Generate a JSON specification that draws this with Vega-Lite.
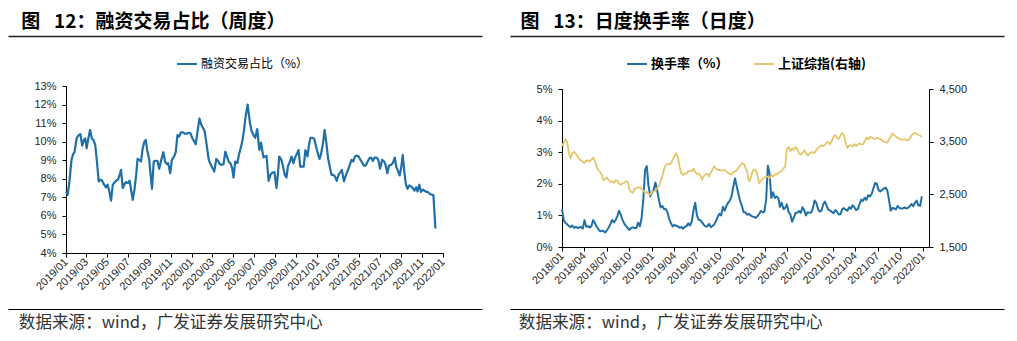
{
"$schema": "https://vega.github.io/schema/vega-lite/v6.json",
"background": "white",
"autosize": "none",
"padding": 0,
"width": 1017,
"height": 341,
"config": {
  "view": {"stroke": null},
  "axis": {"grid": false, "labelFont": "Liberation Sans", "labelFontSize": 11, "labelColor": "#262626", "domainColor": "#000", "tickColor": "#000", "tickSize": 4, "titleFont": "Noto Sans CJK SC"},
  "line": {"strokeJoin": "round"}
},
"datasets": {
  "deco": [{"a": 0, "b": 0, "c": 0, "e": 0}, {"a": 1, "b": 1, "c": 1, "e": 1}],
  "left": [
{"d":"2019-01-01","v":7.32},{"d":"2019-01-06","v":7.14},{"d":"2019-01-11","v":7.86},{"d":"2019-01-17","v":9.02},{"d":"2019-01-21","v":9.29},{"d":"2019-01-26","v":9.46},{"d":"2019-02-01","v":10.18},{"d":"2019-02-07","v":10.36},{"d":"2019-02-12","v":10.4},{"d":"2019-02-17","v":9.79},{"d":"2019-02-22","v":10.09},{"d":"2019-02-26","v":10.18},{"d":"2019-03-02","v":9.64},{"d":"2019-03-07","v":10.18},{"d":"2019-03-12","v":10.63},{"d":"2019-03-17","v":10.18},{"d":"2019-03-22","v":10.09},{"d":"2019-03-27","v":9.82},{"d":"2019-04-01","v":8.93},{"d":"2019-04-06","v":7.86},{"d":"2019-04-11","v":7.95},{"d":"2019-04-16","v":7.9},{"d":"2019-04-21","v":7.71},{"d":"2019-04-27","v":7.54},{"d":"2019-05-02","v":7.68},{"d":"2019-05-07","v":7.32},{"d":"2019-05-12","v":6.82},{"d":"2019-05-17","v":7.68},{"d":"2019-05-23","v":7.82},{"d":"2019-05-27","v":7.9},{"d":"2019-06-01","v":7.95},{"d":"2019-06-06","v":8.21},{"d":"2019-06-10","v":8.48},{"d":"2019-06-15","v":7.5},{"d":"2019-06-20","v":7.71},{"d":"2019-06-24","v":7.82},{"d":"2019-06-30","v":7.77},{"d":"2019-07-05","v":7.9},{"d":"2019-07-10","v":7.32},{"d":"2019-07-14","v":6.86},{"d":"2019-07-19","v":7.41},{"d":"2019-07-24","v":8.21},{"d":"2019-07-28","v":9.07},{"d":"2019-08-02","v":9.02},{"d":"2019-08-07","v":8.93},{"d":"2019-08-12","v":9.64},{"d":"2019-08-17","v":10.0},{"d":"2019-08-21","v":10.09},{"d":"2019-08-25","v":9.55},{"d":"2019-08-31","v":9.02},{"d":"2019-09-04","v":8.21},{"d":"2019-09-08","v":7.46},{"d":"2019-09-13","v":8.93},{"d":"2019-09-18","v":8.96},{"d":"2019-09-24","v":8.96},{"d":"2019-09-29","v":8.54},{"d":"2019-10-05","v":9.02},{"d":"2019-10-11","v":9.43},{"d":"2019-10-16","v":8.93},{"d":"2019-10-21","v":8.79},{"d":"2019-10-25","v":8.84},{"d":"2019-10-31","v":8.3},{"d":"2019-11-05","v":9.02},{"d":"2019-11-11","v":9.2},{"d":"2019-11-16","v":9.43},{"d":"2019-11-21","v":10.36},{"d":"2019-11-26","v":10.27},{"d":"2019-12-01","v":10.5},{"d":"2019-12-07","v":10.5},{"d":"2019-12-12","v":10.43},{"d":"2019-12-18","v":10.43},{"d":"2019-12-24","v":10.48},{"d":"2019-12-29","v":10.45},{"d":"2020-01-03","v":10.2},{"d":"2020-01-09","v":10.0},{"d":"2020-01-13","v":9.86},{"d":"2020-01-18","v":10.5},{"d":"2020-01-24","v":11.25},{"d":"2020-01-29","v":10.93},{"d":"2020-02-03","v":10.75},{"d":"2020-02-08","v":10.57},{"d":"2020-02-14","v":9.82},{"d":"2020-02-20","v":9.02},{"d":"2020-02-26","v":8.75},{"d":"2020-03-02","v":8.57},{"d":"2020-03-07","v":8.39},{"d":"2020-03-13","v":9.07},{"d":"2020-03-18","v":8.96},{"d":"2020-03-23","v":8.79},{"d":"2020-03-29","v":8.75},{"d":"2020-04-03","v":8.79},{"d":"2020-04-08","v":9.46},{"d":"2020-04-13","v":9.2},{"d":"2020-04-18","v":8.93},{"d":"2020-04-23","v":8.84},{"d":"2020-04-28","v":8.57},{"d":"2020-05-02","v":8.07},{"d":"2020-05-07","v":8.93},{"d":"2020-05-13","v":8.84},{"d":"2020-05-18","v":9.32},{"d":"2020-05-24","v":9.73},{"d":"2020-05-28","v":10.09},{"d":"2020-06-01","v":10.54},{"d":"2020-06-06","v":11.34},{"d":"2020-06-12","v":12.0},{"d":"2020-06-19","v":10.98},{"d":"2020-06-24","v":10.54},{"d":"2020-06-29","v":10.36},{"d":"2020-07-04","v":10.21},{"d":"2020-07-10","v":10.68},{"d":"2020-07-16","v":9.55},{"d":"2020-07-21","v":9.95},{"d":"2020-07-28","v":9.15},{"d":"2020-08-01","v":9.2},{"d":"2020-08-06","v":9.23},{"d":"2020-08-12","v":7.89},{"d":"2020-08-18","v":8.25},{"d":"2020-08-24","v":8.34},{"d":"2020-08-29","v":8.36},{"d":"2020-09-04","v":7.5},{"d":"2020-09-08","v":8.25},{"d":"2020-09-12","v":9.2},{"d":"2020-09-18","v":9.02},{"d":"2020-09-23","v":8.66},{"d":"2020-09-28","v":8.21},{"d":"2020-10-03","v":8.07},{"d":"2020-10-07","v":8.66},{"d":"2020-10-13","v":8.93},{"d":"2020-10-18","v":9.2},{"d":"2020-10-23","v":8.84},{"d":"2020-10-29","v":9.2},{"d":"2020-11-03","v":9.38},{"d":"2020-11-07","v":9.55},{"d":"2020-11-12","v":8.66},{"d":"2020-11-18","v":8.66},{"d":"2020-11-22","v":8.66},{"d":"2020-11-27","v":9.55},{"d":"2020-12-03","v":9.2},{"d":"2020-12-08","v":9.91},{"d":"2020-12-12","v":10.21},{"d":"2020-12-18","v":10.21},{"d":"2020-12-23","v":10.14},{"d":"2020-12-28","v":9.73},{"d":"2021-01-02","v":9.38},{"d":"2021-01-07","v":9.07},{"d":"2021-01-11","v":9.29},{"d":"2021-01-17","v":9.91},{"d":"2021-01-22","v":10.63},{"d":"2021-01-27","v":9.91},{"d":"2021-02-01","v":9.11},{"d":"2021-02-07","v":8.54},{"d":"2021-02-11","v":8.21},{"d":"2021-02-16","v":8.21},{"d":"2021-02-21","v":8.13},{"d":"2021-02-26","v":7.89},{"d":"2021-03-04","v":8.25},{"d":"2021-03-09","v":8.36},{"d":"2021-03-13","v":8.48},{"d":"2021-03-19","v":7.86},{"d":"2021-03-25","v":8.21},{"d":"2021-03-30","v":8.43},{"d":"2021-04-05","v":8.75},{"d":"2021-04-10","v":9.02},{"d":"2021-04-15","v":8.93},{"d":"2021-04-20","v":9.2},{"d":"2021-04-25","v":9.25},{"d":"2021-05-01","v":9.2},{"d":"2021-05-06","v":9.02},{"d":"2021-05-12","v":8.84},{"d":"2021-05-16","v":8.71},{"d":"2021-05-21","v":8.71},{"d":"2021-05-26","v":8.89},{"d":"2021-06-01","v":9.11},{"d":"2021-06-06","v":9.14},{"d":"2021-06-11","v":8.96},{"d":"2021-06-16","v":9.14},{"d":"2021-06-22","v":9.14},{"d":"2021-06-27","v":9.02},{"d":"2021-07-02","v":8.54},{"d":"2021-07-08","v":9.02},{"d":"2021-07-14","v":8.93},{"d":"2021-07-18","v":8.75},{"d":"2021-07-23","v":8.3},{"d":"2021-07-28","v":8.71},{"d":"2021-08-03","v":8.75},{"d":"2021-08-08","v":8.84},{"d":"2021-08-14","v":9.14},{"d":"2021-08-18","v":8.66},{"d":"2021-08-23","v":8.43},{"d":"2021-08-28","v":8.18},{"d":"2021-09-02","v":8.66},{"d":"2021-09-06","v":9.29},{"d":"2021-09-11","v":8.3},{"d":"2021-09-15","v":7.71},{"d":"2021-09-20","v":7.46},{"d":"2021-09-25","v":7.64},{"d":"2021-09-30","v":7.59},{"d":"2021-10-05","v":7.5},{"d":"2021-10-10","v":7.36},{"d":"2021-10-15","v":7.54},{"d":"2021-10-19","v":7.32},{"d":"2021-10-24","v":7.68},{"d":"2021-10-29","v":7.29},{"d":"2021-11-03","v":7.41},{"d":"2021-11-08","v":7.36},{"d":"2021-11-13","v":7.29},{"d":"2021-11-18","v":7.29},{"d":"2021-11-24","v":7.18},{"d":"2021-11-29","v":7.14},{"d":"2021-12-04","v":7.14},{"d":"2021-12-10","v":5.32}
  ],
  "right": [
{"d":"2018-01-01","t":1.2,"i":3420},{"d":"2018-01-08","t":0.85,"i":3475},{"d":"2018-01-15","t":0.76,"i":3545},{"d":"2018-01-22","t":0.72,"i":3490},{"d":"2018-01-29","t":0.66,"i":3280},{"d":"2018-02-05","t":0.63,"i":3180},{"d":"2018-02-12","t":0.68,"i":3290},{"d":"2018-02-19","t":0.6,"i":3305},{"d":"2018-02-26","t":0.64,"i":3270},{"d":"2018-03-05","t":0.6,"i":3218},{"d":"2018-03-12","t":0.62,"i":3160},{"d":"2018-03-19","t":0.63,"i":3150},{"d":"2018-03-26","t":0.58,"i":3120},{"d":"2018-04-02","t":0.85,"i":3095},{"d":"2018-04-09","t":0.64,"i":3140},{"d":"2018-04-16","t":0.66,"i":3145},{"d":"2018-04-23","t":0.62,"i":3128},{"d":"2018-04-30","t":0.66,"i":3160},{"d":"2018-05-07","t":0.85,"i":3195},{"d":"2018-05-14","t":0.76,"i":3140},{"d":"2018-05-21","t":0.65,"i":3020},{"d":"2018-05-28","t":0.56,"i":2960},{"d":"2018-06-04","t":0.5,"i":2925},{"d":"2018-06-11","t":0.52,"i":2870},{"d":"2018-06-18","t":0.5,"i":2765},{"d":"2018-06-25","t":0.46,"i":2800},{"d":"2018-07-02","t":0.53,"i":2820},{"d":"2018-07-09","t":0.62,"i":2765},{"d":"2018-07-16","t":0.73,"i":2739},{"d":"2018-07-23","t":0.86,"i":2739},{"d":"2018-07-30","t":0.78,"i":2718},{"d":"2018-08-06","t":0.85,"i":2765},{"d":"2018-08-13","t":0.98,"i":2760},{"d":"2018-08-20","t":1.15,"i":2700},{"d":"2018-08-27","t":1.02,"i":2680},{"d":"2018-09-03","t":0.86,"i":2705},{"d":"2018-09-10","t":0.74,"i":2725},{"d":"2018-09-17","t":0.66,"i":2750},{"d":"2018-09-24","t":0.6,"i":2730},{"d":"2018-10-01","t":0.54,"i":2590},{"d":"2018-10-08","t":0.6,"i":2545},{"d":"2018-10-15","t":0.62,"i":2530},{"d":"2018-10-22","t":0.6,"i":2612},{"d":"2018-10-29","t":0.6,"i":2612},{"d":"2018-11-05","t":0.77,"i":2628},{"d":"2018-11-12","t":0.65,"i":2635},{"d":"2018-11-19","t":0.92,"i":2602},{"d":"2018-11-26","t":1.5,"i":2573},{"d":"2018-12-03","t":2.43,"i":2530},{"d":"2018-12-10","t":2.56,"i":2550},{"d":"2018-12-17","t":1.95,"i":2510},{"d":"2018-12-24","t":1.6,"i":2490},{"d":"2018-12-31","t":1.72,"i":2545},
{"d":"2019-01-07","t":1.8,"i":2550},{"d":"2019-01-14","t":2.04,"i":2575},{"d":"2019-01-21","t":1.8,"i":2620},{"d":"2019-01-28","t":1.5,"i":2650},{"d":"2019-02-04","t":1.25,"i":2750},{"d":"2019-02-11","t":1.3,"i":2840},{"d":"2019-02-18","t":1.2,"i":2980},{"d":"2019-02-25","t":1.2,"i":3050},{"d":"2019-03-04","t":1.1,"i":3080},{"d":"2019-03-11","t":0.88,"i":3065},{"d":"2019-03-18","t":0.75,"i":3090},{"d":"2019-03-25","t":0.65,"i":3165},{"d":"2019-04-01","t":0.7,"i":3230},{"d":"2019-04-08","t":0.67,"i":3280},{"d":"2019-04-15","t":0.66,"i":3190},{"d":"2019-04-22","t":0.61,"i":3025},{"d":"2019-04-29","t":0.63,"i":2895},{"d":"2019-05-06","t":0.58,"i":2868},{"d":"2019-05-13","t":0.64,"i":2895},{"d":"2019-05-20","t":0.66,"i":2898},{"d":"2019-05-27","t":0.75,"i":2940},{"d":"2019-06-03","t":0.68,"i":2945},{"d":"2019-06-10","t":0.8,"i":2945},{"d":"2019-06-17","t":1.16,"i":2990},{"d":"2019-06-24","t":1.4,"i":2925},{"d":"2019-07-01","t":1.0,"i":2886},{"d":"2019-07-08","t":0.86,"i":2895},{"d":"2019-07-15","t":0.85,"i":2860},{"d":"2019-07-22","t":0.78,"i":2780},{"d":"2019-07-29","t":0.7,"i":2850},{"d":"2019-08-05","t":0.65,"i":2880},{"d":"2019-08-12","t":0.65,"i":2890},{"d":"2019-08-19","t":0.73,"i":2840},{"d":"2019-08-26","t":0.63,"i":2910},{"d":"2019-09-02","t":0.66,"i":2975},{"d":"2019-09-09","t":0.72,"i":3035},{"d":"2019-09-16","t":0.82,"i":2990},{"d":"2019-09-23","t":0.95,"i":2962},{"d":"2019-09-30","t":1.05,"i":2962},{"d":"2019-10-07","t":1.0,"i":2955},{"d":"2019-10-14","t":1.27,"i":2950},{"d":"2019-10-21","t":1.15,"i":2960},{"d":"2019-10-28","t":1.3,"i":2937},{"d":"2019-11-04","t":1.4,"i":2905},{"d":"2019-11-11","t":1.47,"i":2895},{"d":"2019-11-18","t":1.6,"i":2873},{"d":"2019-11-25","t":1.9,"i":2920},{"d":"2019-12-02","t":2.17,"i":2940},{"d":"2019-12-09","t":1.92,"i":2958},{"d":"2019-12-16","t":1.68,"i":3005},{"d":"2019-12-23","t":1.45,"i":3045},{"d":"2019-12-30","t":1.3,"i":3089},
{"d":"2020-01-06","t":1.1,"i":3085},{"d":"2020-01-13","t":1.1,"i":3010},{"d":"2020-01-20","t":1.02,"i":2940},{"d":"2020-01-27","t":1.05,"i":2750},{"d":"2020-02-03","t":1.0,"i":2800},{"d":"2020-02-10","t":0.97,"i":2925},{"d":"2020-02-17","t":0.95,"i":2975},{"d":"2020-02-24","t":0.92,"i":2960},{"d":"2020-03-02","t":0.98,"i":2860},{"d":"2020-03-09","t":1.05,"i":2710},{"d":"2020-03-16","t":1.14,"i":2760},{"d":"2020-03-23","t":1.1,"i":2795},{"d":"2020-03-30","t":1.12,"i":2820},{"d":"2020-04-06","t":1.5,"i":2840},{"d":"2020-04-13","t":2.57,"i":2830},{"d":"2020-04-20","t":2.33,"i":2810},{"d":"2020-04-27","t":1.55,"i":2867},{"d":"2020-05-04","t":1.73,"i":2838},{"d":"2020-05-11","t":1.55,"i":2880},{"d":"2020-05-18","t":1.6,"i":2875},{"d":"2020-05-25","t":1.56,"i":2900},{"d":"2020-06-01","t":1.27,"i":2930},{"d":"2020-06-08","t":1.4,"i":2940},{"d":"2020-06-15","t":1.2,"i":2995},{"d":"2020-06-22","t":1.23,"i":3020},{"d":"2020-06-29","t":1.35,"i":3360},{"d":"2020-07-06","t":1.1,"i":3400},{"d":"2020-07-13","t":1.03,"i":3320},{"d":"2020-07-20","t":0.8,"i":3370},{"d":"2020-07-27","t":0.93,"i":3345},{"d":"2020-08-03","t":1.08,"i":3400},{"d":"2020-08-10","t":1.08,"i":3360},{"d":"2020-08-17","t":1.14,"i":3270},{"d":"2020-08-24","t":1.08,"i":3255},{"d":"2020-08-31","t":1.26,"i":3285},{"d":"2020-09-07","t":1.16,"i":3336},{"d":"2020-09-14","t":1.0,"i":3292},{"d":"2020-09-21","t":1.1,"i":3236},{"d":"2020-09-28","t":1.08,"i":3270},{"d":"2020-10-05","t":1.09,"i":3295},{"d":"2020-10-12","t":1.22,"i":3300},{"d":"2020-10-19","t":1.47,"i":3285},{"d":"2020-10-26","t":1.4,"i":3343},{"d":"2020-11-02","t":1.2,"i":3377},{"d":"2020-11-09","t":1.12,"i":3405},{"d":"2020-11-16","t":1.15,"i":3432},{"d":"2020-11-23","t":1.35,"i":3415},{"d":"2020-11-30","t":1.44,"i":3440},{"d":"2020-12-07","t":1.3,"i":3485},{"d":"2020-12-14","t":1.18,"i":3490},{"d":"2020-12-21","t":1.15,"i":3448},{"d":"2020-12-28","t":1.11,"i":3520},
{"d":"2021-01-04","t":1.07,"i":3597},{"d":"2021-01-11","t":1.17,"i":3625},{"d":"2021-01-18","t":1.11,"i":3570},{"d":"2021-01-25","t":1.03,"i":3555},{"d":"2021-02-01","t":1.04,"i":3618},{"d":"2021-02-08","t":1.2,"i":3665},{"d":"2021-02-15","t":1.23,"i":3625},{"d":"2021-02-22","t":1.18,"i":3470},{"d":"2021-03-01","t":1.15,"i":3380},{"d":"2021-03-08","t":1.26,"i":3422},{"d":"2021-03-15","t":1.21,"i":3433},{"d":"2021-03-22","t":1.32,"i":3410},{"d":"2021-03-29","t":1.26,"i":3453},{"d":"2021-04-05","t":1.17,"i":3418},{"d":"2021-04-12","t":1.2,"i":3450},{"d":"2021-04-19","t":1.36,"i":3466},{"d":"2021-04-26","t":1.5,"i":3450},{"d":"2021-05-03","t":1.46,"i":3450},{"d":"2021-05-10","t":1.56,"i":3510},{"d":"2021-05-17","t":1.49,"i":3582},{"d":"2021-05-24","t":1.64,"i":3540},{"d":"2021-05-31","t":1.6,"i":3590},{"d":"2021-06-07","t":1.68,"i":3580},{"d":"2021-06-14","t":1.85,"i":3560},{"d":"2021-06-21","t":2.03,"i":3552},{"d":"2021-06-28","t":2.0,"i":3566},{"d":"2021-07-05","t":1.8,"i":3566},{"d":"2021-07-12","t":1.76,"i":3550},{"d":"2021-07-19","t":1.8,"i":3528},{"d":"2021-07-26","t":1.85,"i":3503},{"d":"2021-08-02","t":1.88,"i":3485},{"d":"2021-08-09","t":1.8,"i":3480},{"d":"2021-08-16","t":1.5,"i":3535},{"d":"2021-08-23","t":1.15,"i":3590},{"d":"2021-08-30","t":1.24,"i":3655},{"d":"2021-09-06","t":1.22,"i":3625},{"d":"2021-09-13","t":1.19,"i":3597},{"d":"2021-09-20","t":1.3,"i":3570},{"d":"2021-09-27","t":1.24,"i":3560},{"d":"2021-10-04","t":1.22,"i":3543},{"d":"2021-10-11","t":1.22,"i":3536},{"d":"2021-10-18","t":1.25,"i":3547},{"d":"2021-10-25","t":1.22,"i":3535},{"d":"2021-11-01","t":1.24,"i":3525},{"d":"2021-11-08","t":1.29,"i":3560},{"d":"2021-11-15","t":1.36,"i":3617},{"d":"2021-11-22","t":1.29,"i":3645},{"d":"2021-11-29","t":1.4,"i":3670},{"d":"2021-12-06","t":1.47,"i":3648},{"d":"2021-12-13","t":1.32,"i":3630},{"d":"2021-12-20","t":1.3,"i":3613},{"d":"2021-12-27","t":1.6,"i":3590}
  ]
},
"layer": [
  {"data": {"name": "deco"}, "mark": {"type": "point", "opacity": 0},
   "encoding": {"x": {"field": "a", "type": "quantitative", "scale": {"domain": [0, 1], "nice": false, "zero": false, "range": [8, 482]},
     "axis": {"orient": "top", "offset": -36, "labels": false, "ticks": false, "domainWidth": 1.5, "domainColor": "#222", "title": "图\u2002 12：融资交易占比（周度）", "titleX": 20.7, "titleY": -14.7, "titleAlign": "left", "titleBaseline": "middle", "titleAnchor": "start", "titleFontSize": 19, "titleFontWeight": "bold", "titleColor": "#000", "titleFont": "Noto Sans CJK SC"}}}},
  {"data": {"name": "deco"}, "mark": {"type": "point", "opacity": 0},
   "encoding": {"x": {"field": "b", "type": "quantitative", "scale": {"domain": [0, 1], "nice": false, "zero": false, "range": [8, 482]},
     "axis": {"orient": "bottom", "offset": -32, "labels": false, "ticks": false, "domainWidth": 1, "domainColor": "#000", "title": "数据来源：wind，广发证券发展研究中心", "titleX": 18.3, "titleY": 13.7, "titleAlign": "left", "titleBaseline": "middle", "titleAnchor": "start", "titleFontSize": 16.6, "titleFontWeight": "normal", "titleColor": "#333", "titleFont": "Noto Sans CJK SC"}}}},
  {"data": {"name": "deco"}, "mark": {"type": "point", "opacity": 0},
   "encoding": {"x": {"field": "c", "type": "quantitative", "scale": {"domain": [0, 1], "nice": false, "zero": false, "range": [510, 1004]},
     "axis": {"orient": "top", "offset": -36, "labels": false, "ticks": false, "domainWidth": 1.5, "domainColor": "#222", "title": "图\u2002 13：日度换手率（日度）", "titleX": 520, "titleY": -14.7, "titleAlign": "left", "titleBaseline": "middle", "titleAnchor": "start", "titleFontSize": 19, "titleFontWeight": "bold", "titleColor": "#000", "titleFont": "Noto Sans CJK SC"}}}},
  {"data": {"name": "deco"}, "mark": {"type": "point", "opacity": 0},
   "encoding": {"x": {"field": "e", "type": "quantitative", "scale": {"domain": [0, 1], "nice": false, "zero": false, "range": [510, 1004]},
     "axis": {"orient": "bottom", "offset": -32, "labels": false, "ticks": false, "domainWidth": 1, "domainColor": "#000", "title": "数据来源：wind，广发证券发展研究中心", "titleX": 518.3, "titleY": 13.7, "titleAlign": "left", "titleBaseline": "middle", "titleAnchor": "start", "titleFontSize": 16.6, "titleFontWeight": "normal", "titleColor": "#333", "titleFont": "Noto Sans CJK SC"}}}},
  {"data": {"name": "left"}, "mark": {"type": "line", "strokeWidth": 2.2, "color": "#1f6fa8"},
   "encoding": {
     "x": {"field": "d", "type": "temporal",
       "scale": {"domain": [{"year": 2019, "month": 1, "date": 1}, {"year": 2022, "month": 1, "date": 1}], "range": [66, 443]},
       "axis": {"orient": "bottom", "offset": -88, "title": null, "format": "%Y/%m", "labelAngle": -45, "labelAlign": "right", "labelBaseline": "middle", "labelPadding": 3, "labelOverlap": false,
         "values": [{"year":2019,"month":1,"date":1},{"year":2019,"month":3,"date":1},{"year":2019,"month":5,"date":1},{"year":2019,"month":7,"date":1},{"year":2019,"month":9,"date":1},{"year":2019,"month":11,"date":1},{"year":2020,"month":1,"date":1},{"year":2020,"month":3,"date":1},{"year":2020,"month":5,"date":1},{"year":2020,"month":7,"date":1},{"year":2020,"month":9,"date":1},{"year":2020,"month":11,"date":1},{"year":2021,"month":1,"date":1},{"year":2021,"month":3,"date":1},{"year":2021,"month":5,"date":1},{"year":2021,"month":7,"date":1},{"year":2021,"month":9,"date":1},{"year":2021,"month":11,"date":1},{"year":2022,"month":1,"date":1}]}},
     "y": {"field": "v", "type": "quantitative", "scale": {"domain": [4, 13], "nice": false, "zero": false, "range": [253, 86]},
       "axis": {"orient": "left", "offset": -66, "title": null, "values": [4, 5, 6, 7, 8, 9, 10, 11, 12, 13], "labelExpr": "datum.value + '%'", "labelPadding": 6}},
     "strokeDash": {"datum": "融资交易占比（%）", "type": "nominal", "scale": {"range": [[1, 0]]},
       "legend": {"orient": "none", "legendX": 176, "legendY": 53, "direction": "horizontal", "title": null, "symbolType": "stroke", "symbolSize": 400, "symbolStrokeWidth": 2, "symbolStrokeColor": "#1f6fa8", "labelFont": "Noto Sans CJK SC", "labelFontSize": 12, "labelColor": "#000", "padding": 0, "labelOffset": 3}}
   }},
  {"data": {"name": "right"}, "mark": {"type": "line", "strokeWidth": 2},
   "encoding": {
     "x": {"field": "d", "type": "temporal",
       "scale": {"domain": [{"year": 2018, "month": 1, "date": 1}, {"year": 2022, "month": 1, "date": 25}], "range": [562, 929]},
       "axis": {"orient": "bottom", "offset": -94, "title": null, "format": "%Y/%m", "labelAngle": -45, "labelAlign": "right", "labelBaseline": "middle", "labelPadding": 3, "labelOverlap": false,
         "values": [{"year":2018,"month":1,"date":1},{"year":2018,"month":4,"date":1},{"year":2018,"month":7,"date":1},{"year":2018,"month":10,"date":1},{"year":2019,"month":1,"date":1},{"year":2019,"month":4,"date":1},{"year":2019,"month":7,"date":1},{"year":2019,"month":10,"date":1},{"year":2020,"month":1,"date":1},{"year":2020,"month":4,"date":1},{"year":2020,"month":7,"date":1},{"year":2020,"month":10,"date":1},{"year":2021,"month":1,"date":1},{"year":2021,"month":4,"date":1},{"year":2021,"month":7,"date":1},{"year":2021,"month":10,"date":1},{"year":2022,"month":1,"date":1}]}},
     "y": {"field": "t", "type": "quantitative", "scale": {"domain": [0, 5], "nice": false, "zero": false, "range": [247, 89]},
       "axis": {"orient": "left", "offset": -562, "title": null, "values": [0, 1, 2, 3, 4, 5], "labelExpr": "datum.value + '%'", "labelPadding": 6}},
     "color": {"datum": "换手率（%）", "type": "nominal", "scale": {"domain": ["换手率（%）", "上证综指(右轴)"], "range": ["#1f6fa8", "#e5c76b"]},
       "legend": {"orient": "none", "legendX": 626, "legendY": 53, "direction": "horizontal", "title": null, "symbolType": "stroke", "symbolSize": 400, "symbolStrokeWidth": 2, "labelFont": "Noto Sans CJK SC", "labelFontSize": 13, "labelFontWeight": "bold", "labelColor": "#000", "padding": 0, "labelOffset": 3, "columnPadding": 24}}
   }},
  {"data": {"name": "right"}, "mark": {"type": "line", "strokeWidth": 1.8},
   "encoding": {
     "x": {"field": "d", "type": "temporal",
       "scale": {"domain": [{"year": 2018, "month": 1, "date": 1}, {"year": 2022, "month": 1, "date": 25}], "range": [562, 929]}, "axis": null},
     "y": {"field": "i", "type": "quantitative", "scale": {"domain": [1500, 4500], "nice": false, "zero": false, "range": [247, 89]},
       "axis": {"orient": "right", "offset": -88, "title": null, "values": [1500, 2500, 3500, 4500], "format": ",d", "labelPadding": 6}},
     "color": {"datum": "上证综指(右轴)", "type": "nominal"}
   }}
],
"resolve": {"scale": {"x": "independent", "y": "independent"}, "axis": {"x": "independent", "y": "independent"}}
}
